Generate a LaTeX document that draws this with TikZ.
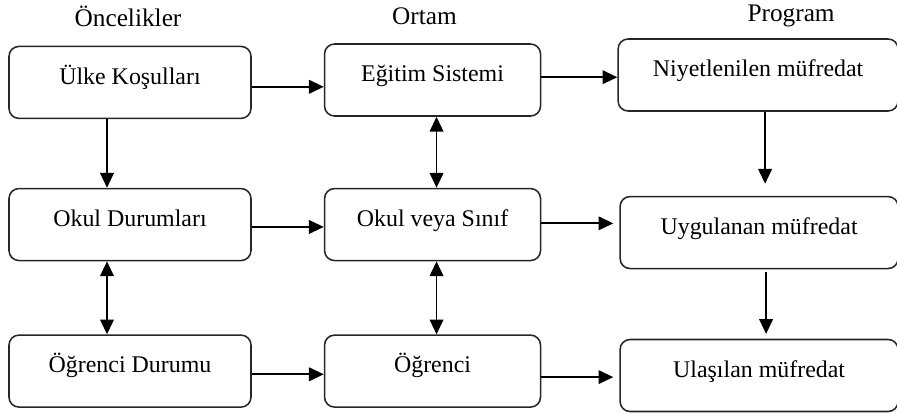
\documentclass[tikz,border=0pt]{standalone}
\usepackage{fontspec}
\setmainfont{Liberation Serif}
\usetikzlibrary{positioning,arrows.meta}

\tikzset{
	kutu/.style={draw=black!85, line width=1.1pt, rounded corners=0.25cm, minimum height=1.8cm, font=\fontsize{17}{20}\selectfont, text height=0.45cm, text depth=0.36cm},
	baslik/.style={font=\fontsize{18}{21}\selectfont},
	ok/.style={-{Triangle[length=0.37cm,width=0.34cm]}, line width=1.3pt},
	cift/.style={{Triangle[length=0.37cm,width=0.34cm]}-{Triangle[length=0.37cm,width=0.34cm]}, line width=1.3pt}
}

\begin{document}
\begin{tikzpicture}
		\useasboundingbox (0,0) rectangle (22.425,-10.35);
		
		\node[kutu, minimum width=6.05cm] (ulke) at (3.25,-2.06) {Ülke Koşulları};
		\node[kutu, minimum width=6.05cm, anchor=north, shift={(0,-1.715)}] (okuldur) at (ulke.south) {Okul Durumları};
		\node[kutu, minimum width=6.05cm, anchor=north, shift={(0,-1.825)}] (ogrdur) at (okuldur.south) {Öğrenci Durumu};
		
		\node[kutu, minimum width=5.4cm, anchor=west, shift={(1.8,0.06)}] (egitim) at (ulke.east) {Eğitim Sistemi};
		\node[kutu, minimum width=5.4cm, anchor=west, shift={(1.8,0)}] (okulsinif) at (okuldur.east) {Okul veya Sınıf};
		\node[kutu, minimum width=5.4cm, anchor=west, shift={(1.8,0)}] (ogrenci) at (ogrdur.east) {Öğrenci};
		
		\node[kutu, minimum width=7cm, anchor=west, shift={(1.9,0.125)}] (niyet) at (egitim.east) {Niyetlenilen müfredat};
		\node[kutu, minimum width=6.95cm, anchor=west, shift={(1.95,-0.2)}] (uyg) at (okulsinif.east) {Uygulanan müfredat};
		\node[kutu, minimum width=6.95cm, anchor=west, shift={(1.95,-0.11)}] (ulas) at (ogrenci.east) {Ulaşılan müfredat};
		
		\node[baslik, shift={(-0.05,0.735)}] (oncelik) at (ulke.north) {Öncelikler};
		\node[baslik, shift={(-0.2,0.675)}] (ortam) at (egitim.north) {Ortam};
		\node[baslik, shift={(0.825,0.55)}] (program) at (niyet.north) {Program};
		
		\draw[ok] ([yshift=-0.11cm]ulke.east) -- ([yshift=-0.11cm]ulke.east -| egitim.west);
		\draw[ok] ([yshift=0.07cm]egitim.east) -- ([yshift=0.07cm]egitim.east -| niyet.west);
		\draw[ok] ([yshift=-0.06cm]okuldur.east) -- ([yshift=-0.06cm]okuldur.east -| okulsinif.west);
		\draw[ok, shorten >=0.15cm] ([yshift=0.03cm]okulsinif.east) -- ([yshift=0.03cm]okulsinif.east -| uyg.west);
		\draw[ok] ([yshift=-0.08cm]ogrdur.east) -- ([yshift=-0.08cm]ogrdur.east -| ogrenci.west);
		\draw[ok, shorten >=0.15cm] ([yshift=-0.15cm]ogrenci.east) -- ([yshift=-0.15cm]ogrenci.east -| ulas.west);
		
		\draw[ok] ([xshift=-0.575cm]ulke.south) -- ([xshift=-0.575cm]okuldur.north);
		\draw[cift] ([xshift=-0.575cm]okuldur.south) -- ([xshift=-0.575cm]ogrdur.north);
		\draw[cift] ([xshift=0.1cm]egitim.south) -- ([xshift=0.1cm]okulsinif.north);
		\draw[cift] ([xshift=0.1cm]okulsinif.south) -- ([xshift=0.1cm]ogrenci.north);
		\draw[ok, shorten >=0.3cm] ([xshift=0.175cm]niyet.south) -- ([xshift=0.175cm]niyet.south |- uyg.north);
		\draw[ok, shorten <=0.07cm, shorten >=0.12cm] ([xshift=0.175cm]uyg.south) -- ([xshift=0.175cm]uyg.south |- ulas.north);
	\end{tikzpicture}
\end{document}
